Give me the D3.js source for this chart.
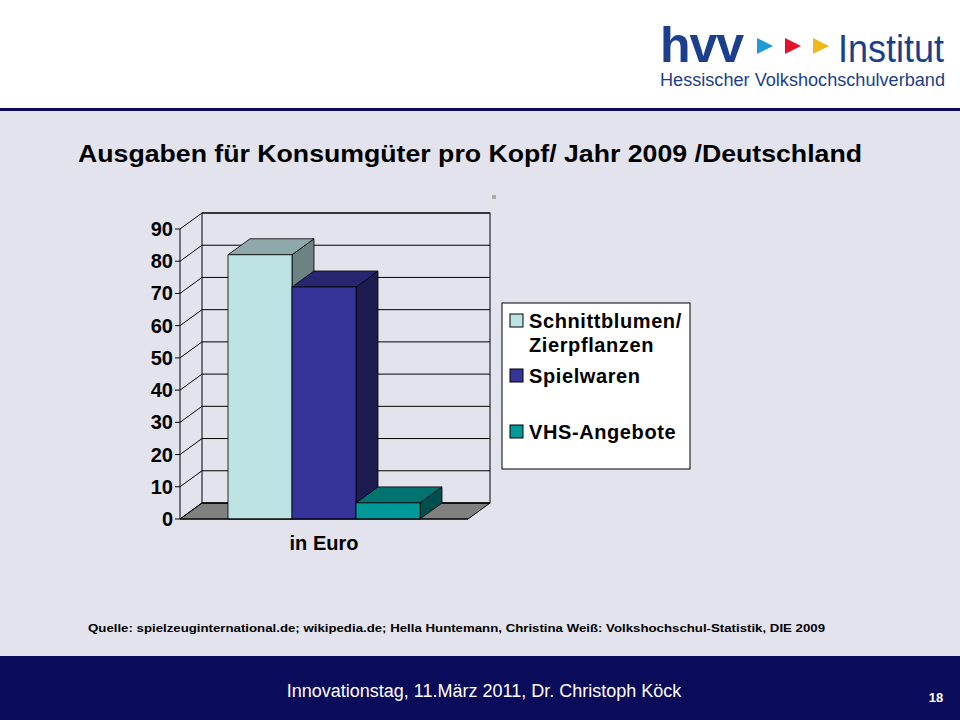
<!DOCTYPE html><html><head><meta charset="utf-8"><script src="https://cdn.jsdelivr.net/npm/d3@7"></script>
<style>body{margin:0}svg{display:block;font-family:"Liberation Sans",Arial,sans-serif}</style></head><body><svg width="960" height="720"></svg>
<script>
const categories=["in Euro"];
const series=["Schnittblumen/\nZierpflanzen","Spielwaren","VHS-Angebote"];
const values=[82,72,5];
const frontColors=["#bde2e4","#363498","#00999a"];
const topColors=["#8fa9aa","#282670","#007270"];
const sideColors=["#6c8283","#1d1c50","#004f4e"];
const yTicks=[0,10,20,30,40,50,60,70,80,90];

const svg=d3.select("svg");
svg.append("rect").attr("width",960).attr("height",720).attr("fill","#e3e3ed");
svg.append("rect").attr("width",960).attr("height",109).attr("fill","#fff");
svg.append("rect").attr("y",108).attr("width",960).attr("height",3).attr("fill","#0c0c5c");
svg.append("rect").attr("y",656).attr("width",960).attr("height",64).attr("fill","#0b0b5b");
const lg=svg.append("g");
lg.append("text").attr("x",660).attr("y",62).attr("font-size",50).attr("font-weight","bold").attr("fill","#1b3f8c").attr("letter-spacing",-1).text("hvv");
[["#1e9ad6",757],["#e3122d",785],["#f4b71a",813]].forEach(([c,x])=>lg.append("path").attr("d",`M${x},38L${x+16},46L${x},54Z`).attr("fill",c));
lg.append("text").attr("x",838).attr("y",62).attr("font-size",38).attr("fill","#1b3f8c").attr("textLength",106).attr("lengthAdjust","spacingAndGlyphs").text("Institut");
lg.append("text").attr("x",660).attr("y",86).attr("font-size",18).attr("fill","#1b3f8c").attr("textLength",285).attr("lengthAdjust","spacingAndGlyphs").text("Hessischer  Volkshochschulverband");

svg.append("text").attr("x",78).attr("y",162).attr("font-size",24).attr("font-weight","bold").attr("fill","#000").attr("textLength",784).attr("lengthAdjust","spacingAndGlyphs").text("Ausgaben für Konsumgüter pro Kopf/ Jahr 2009 /Deutschland");
svg.append("rect").attr("x",492).attr("y",195).attr("width",4).attr("height",4).attr("fill","#aaa");

const dx=22,dy=-16;
const y=d3.scaleLinear().domain([0,90]).range([519,229]);
const x0=180,x1=468;
const x=d3.scaleBand().domain(series).range([228,420]);
const g=svg.append("g");
g.append("path").attr("d",`M${x0},${y(0)}L${x0+dx},${y(0)+dy}L${x1+dx},${y(0)+dy}L${x1},${y(0)}Z`).attr("fill","#808080").attr("stroke","#000");
g.append("rect").attr("x",x0+dx).attr("y",y(90)+dy).attr("width",x1-x0).attr("height",y(0)-y(90)).attr("fill","none").attr("stroke","#000");
yTicks.forEach(t=>{
 g.append("line").attr("x1",x0+dx).attr("x2",x1+dx).attr("y1",y(t)+dy).attr("y2",y(t)+dy).attr("stroke","#000");
 g.append("line").attr("x1",x0).attr("x2",x0+dx).attr("y1",y(t)).attr("y2",y(t)+dy).attr("stroke","#000");
 g.append("line").attr("x1",x0-5).attr("x2",x0).attr("y1",y(t)).attr("y2",y(t)).attr("stroke","#000");
 g.append("text").attr("x",x0-7).attr("y",y(t)+7).attr("text-anchor","end").attr("font-size",20).attr("font-weight","bold").text(t);
});
g.append("line").attr("x1",x0).attr("x2",x0).attr("y1",y(0)).attr("y2",y(90)).attr("stroke","#000");
series.forEach((s,i)=>{
 const bx=x(s),bw=x.bandwidth(),top=y(values[i]),bot=y(0);
 g.append("path").attr("d",`M${bx+bw},${top}L${bx+bw+dx},${top+dy}L${bx+bw+dx},${bot+dy}L${bx+bw},${bot}Z`).attr("fill",sideColors[i]).attr("stroke","#000").attr("stroke-width",0.8);
 g.append("path").attr("d",`M${bx},${top}L${bx+dx},${top+dy}L${bx+bw+dx},${top+dy}L${bx+bw},${top}Z`).attr("fill",topColors[i]).attr("stroke","#000").attr("stroke-width",0.8);
 g.append("rect").attr("x",bx).attr("y",top).attr("width",bw).attr("height",bot-top).attr("fill",frontColors[i]).attr("stroke","#000").attr("stroke-width",0.8);
});
g.append("line").attr("x1",x0).attr("x2",x1).attr("y1",y(0)).attr("y2",y(0)).attr("stroke","#000");
g.append("text").attr("x",324).attr("y",550).attr("text-anchor","middle").attr("font-size",20).attr("font-weight","bold").text(categories[0]);
const L=svg.append("g");
L.append("rect").attr("x",502).attr("y",303).attr("width",188).attr("height",166).attr("fill","#fff").attr("stroke","#000");
const ly=[321,376,432];
series.forEach((s,i)=>{
 L.append("rect").attr("x",510).attr("y",ly[i]-7).attr("width",13).attr("height",13).attr("fill",frontColors[i]).attr("stroke","#000");
 s.split("\n").forEach((line,j)=>L.append("text").attr("x",529).attr("y",ly[i]+7+j*24).attr("font-size",20).attr("font-weight","bold").attr("letter-spacing",0.6).text(line));
});
svg.append("text").attr("x",88).attr("y",632).attr("font-size",11.5).attr("font-weight","bold").attr("textLength",737).attr("lengthAdjust","spacingAndGlyphs").text("Quelle: spielzeuginternational.de;  wikipedia.de; Hella Huntemann,  Christina Weiß: Volkshochschul-Statistik,  DIE 2009");
svg.append("text").attr("x",484).attr("y",697).attr("text-anchor","middle").attr("font-size",18).attr("fill","#fff").text("Innovationstag, 11.März 2011, Dr. Christoph Köck");
svg.append("text").attr("x",936).attr("y",702).attr("text-anchor","middle").attr("font-size",13).attr("font-weight","bold").attr("fill","#fff").text("18");
</script></body></html>
